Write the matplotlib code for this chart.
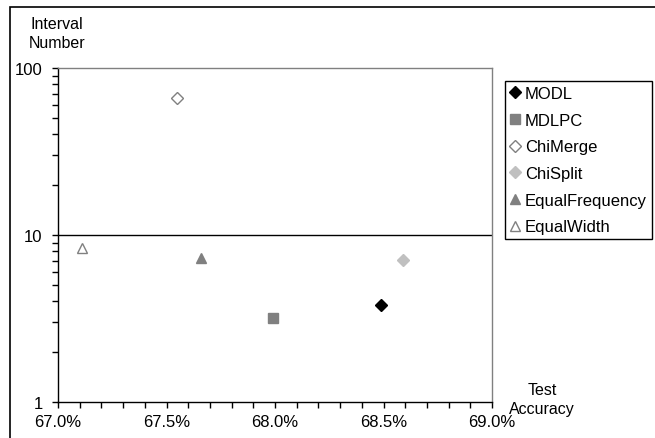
import matplotlib.pyplot as plt
from matplotlib.patches import Rectangle
from matplotlib.ticker import FixedLocator, FuncFormatter, NullFormatter, MultipleLocator

plt.rcParams['font.family'] = ['Liberation Sans', 'DejaVu Sans']
plt.rcParams['font.size'] = 12

methods = ["MODL", "MDLPC", "ChiMerge", "ChiSplit", "EqualFrequency", "EqualWidth"]
accuracy = [68.49, 67.99, 67.55, 68.59, 67.66, 67.11]   # test accuracy, %
intervals = [3.8, 3.2, 66, 7.1, 7.3, 8.4]                # interval number

# marker, face colour, edge colour, size
styles = [
    ("D", "black", "black", 6),
    ("s", "#808080", "#808080", 7),
    ("D", "white", "#808080", 6),
    ("D", "#c0c0c0", "#c0c0c0", 6),
    ("^", "#808080", "#808080", 7.5),
    ("^", "white", "#808080", 7.5),
]

W, H = 655, 439
fig = plt.figure(figsize=(W / 100, H / 100), dpi=100)

# outer chart frame (only left and top edges fall inside the image)
fig.patches.append(Rectangle((10 / W, -0.05), 1.0, 1 - 8 / H + 0.05,
                             transform=fig.transFigure, fill=False,
                             edgecolor="black", linewidth=1.2))

ax = fig.add_axes([58 / W, (H - 403) / H, (492 - 58) / W, (403 - 69) / H])

for m, x, y, (mk, fc, ec, ms) in zip(methods, accuracy, intervals, styles):
    ax.plot([x], [y], linestyle="none", marker=mk, markerfacecolor=fc,
            markeredgecolor=ec, markersize=ms, markeredgewidth=1, label=m)

ax.set_yscale("log")
ax.set_ylim(1, 100)
ax.set_xlim(67.0, 69.0)

ax.xaxis.set_major_locator(MultipleLocator(0.5))
ax.xaxis.set_minor_locator(MultipleLocator(0.1))
ax.xaxis.set_major_formatter(FuncFormatter(lambda v, p: f"{v:.1f}%"))
ax.yaxis.set_major_locator(FixedLocator([1, 10, 100]))
ax.yaxis.set_major_formatter(FuncFormatter(lambda v, p: f"{v:g}"))
ax.yaxis.set_minor_locator(FixedLocator([k * d for d in (1, 10) for k in range(2, 10)]))
ax.yaxis.set_minor_formatter(NullFormatter())

ax.tick_params(axis="both", which="both", direction="out", length=4, width=1,
               color="black", labelsize=12)
ax.tick_params(axis="x", which="major", pad=5)
ax.tick_params(axis="y", which="major", pad=7)

ax.axhline(10, color="black", linewidth=1, zorder=0)

for s in ("top", "right"):
    ax.spines[s].set_color("#808080")
    ax.spines[s].set_linewidth(1)
for s in ("left", "bottom"):
    ax.spines[s].set_color("black")
    ax.spines[s].set_linewidth(1)

fig.text(57 / W, 1 - 34 / H, "Interval\nNumber", ha="center", va="center",
         fontsize=11.5, linespacing=1.35)
fig.text(542 / W, 1 - 400 / H, "Test\nAccuracy", ha="center", va="center",
         fontsize=11.5, linespacing=1.35)

leg = fig.legend(loc="upper left", bbox_to_anchor=(505 / W, 1 - 82 / H),
                 fancybox=False, edgecolor="black", framealpha=1,
                 fontsize=12, handlelength=0.6, handletextpad=0.3,
                 labelspacing=0.7, borderpad=0.3, borderaxespad=0)
leg.get_frame().set_linewidth(1)

fig.savefig("out.png", dpi=100)
